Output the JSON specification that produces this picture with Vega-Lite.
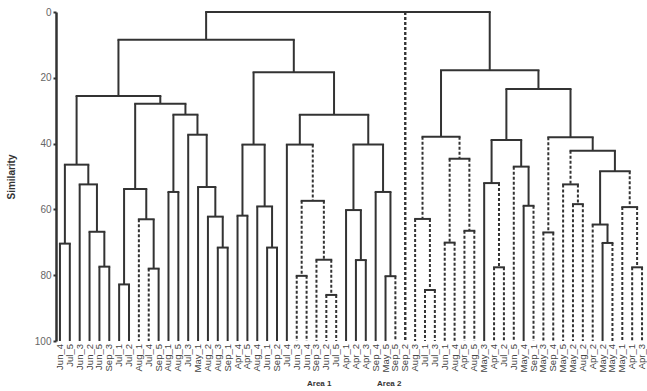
{
  "$schema": "https://vega.github.io/schema/vega-lite/v6.json",
  "width": 589,
  "height": 329,
  "autosize": "none",
  "padding": {"left": 56, "top": 12, "right": 2, "bottom": 50},
  "background": "white",
  "config": {
    "view": {"stroke": null},
    "font": "Liberation Sans",
    "axisY": {
      "grid": false,
      "domainColor": "#333",
      "domainWidth": 2.5,
      "tickColor": "#333",
      "tickWidth": 2,
      "tickSize": 3,
      "labelPadding": 2,
      "labelColor": "#666",
      "labelFontSize": 10,
      "titleFontSize": 10,
      "titleFontWeight": "bold",
      "titleColor": "#333",
      "titlePadding": 18
    }
  },
  "datasets": {
    "merges": [
      {"xl": 1, "xr": 2, "h": 70.4, "hl": 100, "hr": 100, "al": "Area 1", "ar": "Area 1"},
      {"xl": 5, "xr": 6, "h": 77.4, "hl": 100, "hr": 100, "al": "Area 1", "ar": "Area 1"},
      {"xl": 4, "xr": 5.5, "h": 66.8, "hl": 100, "hr": 77.4, "al": "Area 1", "ar": "Area 1"},
      {"xl": 3, "xr": 4.75, "h": 52.4, "hl": 100, "hr": 66.8, "al": "Area 1", "ar": "Area 1"},
      {"xl": 1.5, "xr": 3.875, "h": 46.4, "hl": 70.4, "hr": 52.4, "al": "Area 1", "ar": "Area 1"},
      {"xl": 7, "xr": 8, "h": 82.8, "hl": 100, "hr": 100, "al": "Area 1", "ar": "Area 1"},
      {"xl": 10, "xr": 11, "h": 78.0, "hl": 100, "hr": 100, "al": "Area 2", "ar": "Area 1"},
      {"xl": 9, "xr": 10.5, "h": 63.0, "hl": 100, "hr": 78.0, "al": "Area 2", "ar": "Area 1"},
      {"xl": 7.5, "xr": 9.75, "h": 53.8, "hl": 82.8, "hr": 63.0, "al": "Area 1", "ar": "Area 1"},
      {"xl": 12, "xr": 13, "h": 54.7, "hl": 100, "hr": 100, "al": "Area 1", "ar": "Area 1"},
      {"xl": 17, "xr": 18, "h": 71.6, "hl": 100, "hr": 100, "al": "Area 1", "ar": "Area 1"},
      {"xl": 16, "xr": 17.5, "h": 62.2, "hl": 100, "hr": 71.6, "al": "Area 1", "ar": "Area 1"},
      {"xl": 15, "xr": 16.75, "h": 53.2, "hl": 100, "hr": 62.2, "al": "Area 1", "ar": "Area 1"},
      {"xl": 14, "xr": 15.875, "h": 37.3, "hl": 100, "hr": 53.2, "al": "Area 1", "ar": "Area 1"},
      {"xl": 12.5, "xr": 14.9375, "h": 31.2, "hl": 54.7, "hr": 37.3, "al": "Area 1", "ar": "Area 1"},
      {"xl": 8.625, "xr": 13.71875, "h": 27.9, "hl": 53.8, "hr": 31.2, "al": "Area 1", "ar": "Area 1"},
      {"xl": 2.6875, "xr": 11.171875, "h": 25.5, "hl": 46.4, "hr": 27.9, "al": "Area 1", "ar": "Area 1"},
      {"xl": 19, "xr": 20, "h": 61.9, "hl": 100, "hr": 100, "al": "Area 1", "ar": "Area 1"},
      {"xl": 22, "xr": 23, "h": 71.6, "hl": 100, "hr": 100, "al": "Area 1", "ar": "Area 1"},
      {"xl": 21, "xr": 22.5, "h": 59.1, "hl": 100, "hr": 71.6, "al": "Area 1", "ar": "Area 1"},
      {"xl": 19.5, "xr": 21.75, "h": 40.3, "hl": 61.9, "hr": 59.1, "al": "Area 1", "ar": "Area 1"},
      {"xl": 25, "xr": 26, "h": 80.2, "hl": 100, "hr": 100, "al": "Area 2", "ar": "Area 2"},
      {"xl": 28, "xr": 29, "h": 86.0, "hl": 100, "hr": 100, "al": "Area 2", "ar": "Area 2"},
      {"xl": 27, "xr": 28.5, "h": 75.3, "hl": 100, "hr": 86.0, "al": "Area 2", "ar": "Area 2"},
      {"xl": 25.5, "xr": 27.75, "h": 57.4, "hl": 80.2, "hr": 75.3, "al": "Area 2", "ar": "Area 2"},
      {"xl": 24, "xr": 26.625, "h": 40.3, "hl": 100, "hr": 57.4, "al": "Area 1", "ar": "Area 2"},
      {"xl": 31, "xr": 32, "h": 75.4, "hl": 100, "hr": 100, "al": "Area 1", "ar": "Area 1"},
      {"xl": 30, "xr": 31.5, "h": 60.2, "hl": 100, "hr": 75.4, "al": "Area 1", "ar": "Area 1"},
      {"xl": 34, "xr": 35, "h": 80.3, "hl": 100, "hr": 100, "al": "Area 1", "ar": "Area 2"},
      {"xl": 33, "xr": 34.5, "h": 54.7, "hl": 100, "hr": 80.3, "al": "Area 1", "ar": "Area 1"},
      {"xl": 30.75, "xr": 33.75, "h": 40.3, "hl": 60.2, "hr": 54.7, "al": "Area 1", "ar": "Area 1"},
      {"xl": 25.3125, "xr": 32.25, "h": 31.2, "hl": 40.3, "hr": 40.3, "al": "Area 1", "ar": "Area 1"},
      {"xl": 20.625, "xr": 28.78125, "h": 18.3, "hl": 40.3, "hr": 31.2, "al": "Area 1", "ar": "Area 1"},
      {"xl": 6.9296875, "xr": 24.703125, "h": 8.4, "hl": 25.5, "hr": 18.3, "al": "Area 1", "ar": "Area 1"},
      {"xl": 38, "xr": 39, "h": 84.5, "hl": 100, "hr": 100, "al": "Area 2", "ar": "Area 2"},
      {"xl": 37, "xr": 38.5, "h": 62.9, "hl": 100, "hr": 84.5, "al": "Area 2", "ar": "Area 2"},
      {"xl": 40, "xr": 41, "h": 70.1, "hl": 100, "hr": 100, "al": "Area 2", "ar": "Area 2"},
      {"xl": 42, "xr": 43, "h": 66.5, "hl": 100, "hr": 100, "al": "Area 2", "ar": "Area 2"},
      {"xl": 40.5, "xr": 42.5, "h": 44.6, "hl": 70.1, "hr": 66.5, "al": "Area 2", "ar": "Area 2"},
      {"xl": 37.75, "xr": 41.5, "h": 37.9, "hl": 62.9, "hr": 44.6, "al": "Area 2", "ar": "Area 2"},
      {"xl": 45, "xr": 46, "h": 77.6, "hl": 100, "hr": 100, "al": "Area 2", "ar": "Area 2"},
      {"xl": 44, "xr": 45.5, "h": 52.0, "hl": 100, "hr": 77.6, "al": "Area 1", "ar": "Area 2"},
      {"xl": 48, "xr": 49, "h": 58.9, "hl": 100, "hr": 100, "al": "Area 1", "ar": "Area 2"},
      {"xl": 47, "xr": 48.5, "h": 47.0, "hl": 100, "hr": 58.9, "al": "Area 2", "ar": "Area 1"},
      {"xl": 44.75, "xr": 47.75, "h": 38.9, "hl": 52.0, "hr": 47.0, "al": "Area 1", "ar": "Area 1"},
      {"xl": 50, "xr": 51, "h": 67.0, "hl": 100, "hr": 100, "al": "Area 2", "ar": "Area 2"},
      {"xl": 53, "xr": 54, "h": 58.4, "hl": 100, "hr": 100, "al": "Area 2", "ar": "Area 2"},
      {"xl": 52, "xr": 53.5, "h": 52.4, "hl": 100, "hr": 58.4, "al": "Area 2", "ar": "Area 2"},
      {"xl": 56, "xr": 57, "h": 70.2, "hl": 100, "hr": 100, "al": "Area 1", "ar": "Area 2"},
      {"xl": 55, "xr": 56.5, "h": 64.6, "hl": 100, "hr": 70.2, "al": "Area 2", "ar": "Area 1"},
      {"xl": 59, "xr": 60, "h": 77.6, "hl": 100, "hr": 100, "al": "Area 2", "ar": "Area 2"},
      {"xl": 58, "xr": 59.5, "h": 59.3, "hl": 100, "hr": 77.6, "al": "Area 2", "ar": "Area 2"},
      {"xl": 55.75, "xr": 58.75, "h": 48.4, "hl": 64.6, "hr": 59.3, "al": "Area 1", "ar": "Area 2"},
      {"xl": 52.75, "xr": 57.25, "h": 42.2, "hl": 52.4, "hr": 48.4, "al": "Area 2", "ar": "Area 1"},
      {"xl": 50.5, "xr": 55.0, "h": 38.1, "hl": 67.0, "hr": 42.2, "al": "Area 2", "ar": "Area 1"},
      {"xl": 46.25, "xr": 52.75, "h": 23.4, "hl": 38.9, "hr": 38.1, "al": "Area 1", "ar": "Area 1"},
      {"xl": 39.625, "xr": 49.5, "h": 17.7, "hl": 37.9, "hr": 23.4, "al": "Area 1", "ar": "Area 1"},
      {"xl": 15.81640625, "xr": 44.5625, "h": 0, "hl": 8.4, "hr": 17.7, "al": "Area 1", "ar": "Area 1"},
      {"xl": 36, "xr": 36, "h": 0, "hl": 100, "hr": 100, "al": "Area 2", "ar": "Area 2"}
    ],
    "leaves": [
      {"i": 1, "name": "Jun_4"}, {"i": 2, "name": "Jul_5"}, {"i": 3, "name": "Jun_3"},
      {"i": 4, "name": "Jun_2"}, {"i": 5, "name": "Jun_5"}, {"i": 6, "name": "Sep_3"},
      {"i": 7, "name": "Jul_1"}, {"i": 8, "name": "Jul_2"}, {"i": 9, "name": "Aug_1"},
      {"i": 10, "name": "Jul_4"}, {"i": 11, "name": "Sep_5"}, {"i": 12, "name": "Aug_1"},
      {"i": 13, "name": "Aug_5"}, {"i": 14, "name": "Jul_3"}, {"i": 15, "name": "May_1"},
      {"i": 16, "name": "Aug_2"}, {"i": 17, "name": "Aug_3"}, {"i": 18, "name": "Sep_1"},
      {"i": 19, "name": "Apr_4"}, {"i": 20, "name": "Apr_5"}, {"i": 21, "name": "Aug_4"},
      {"i": 22, "name": "Jun_1"}, {"i": 23, "name": "Sep_2"}, {"i": 24, "name": "Jul_4"},
      {"i": 25, "name": "Jun_3"}, {"i": 26, "name": "Jun_4"}, {"i": 27, "name": "Sep_3"},
      {"i": 28, "name": "Jun_2"}, {"i": 29, "name": "Jul_5"}, {"i": 30, "name": "Apr_1"},
      {"i": 31, "name": "Apr_2"}, {"i": 32, "name": "Apr_3"}, {"i": 33, "name": "Sep_4"},
      {"i": 34, "name": "May_5"}, {"i": 35, "name": "Sep_5"}, {"i": 36, "name": "Sep_2"},
      {"i": 37, "name": "Aug_3"}, {"i": 38, "name": "Jul_1"}, {"i": 39, "name": "Jul_3"},
      {"i": 40, "name": "Jun_1"}, {"i": 41, "name": "Aug_4"}, {"i": 42, "name": "Apr_5"},
      {"i": 43, "name": "Aug_5"}, {"i": 44, "name": "May_3"}, {"i": 45, "name": "Apr_4"},
      {"i": 46, "name": "Jul_2"}, {"i": 47, "name": "Jun_5"}, {"i": 48, "name": "May_4"},
      {"i": 49, "name": "Sep_1"}, {"i": 50, "name": "May_3"}, {"i": 51, "name": "Sep_4"},
      {"i": 52, "name": "May_5"}, {"i": 53, "name": "May_2"}, {"i": 54, "name": "Aug_2"},
      {"i": 55, "name": "Apr_2"}, {"i": 56, "name": "May_2"}, {"i": 57, "name": "May_4"},
      {"i": 58, "name": "May_1"}, {"i": 59, "name": "Apr_1"}, {"i": 60, "name": "Apr_3"}
    ]
  },
  "layer": [
    {
      "data": {"name": "merges"},
      "mark": {"type": "rule", "color": "#333", "strokeWidth": 2, "strokeCap": "square"},
      "encoding": {
        "x": {"field": "xl", "type": "quantitative", "axis": null,
              "scale": {"domain": [0.6, 60.3], "nice": false, "zero": false}},
        "x2": {"field": "xr"},
        "y": {"field": "h", "type": "quantitative", "title": "Similarity",
              "axis": {"values": [0, 20, 40, 60, 80, 100]},
              "scale": {"domain": [0, 100], "reverse": true, "nice": false, "zero": false}}
      }
    },
    {
      "data": {"name": "merges"},
      "mark": {"type": "rule", "color": "#333", "strokeWidth": 2},
      "encoding": {
        "x": {"field": "xl", "type": "quantitative", "axis": null},
        "y": {"field": "h", "type": "quantitative", "title": "Similarity",
              "axis": {"values": [0, 20, 40, 60, 80, 100]}},
        "y2": {"field": "hl"},
        "strokeDash": {
          "field": "al", "type": "nominal",
          "scale": {"domain": ["Area 1", "Area 2"], "range": [[1, 0], [3, 2]]},
          "legend": {
            "title": null, "orient": "none", "direction": "horizontal",
            "legendX": 243, "legendY": 368,
            "symbolSize": 0, "symbolOpacity": 0, "labelOffset": 0,
            "columnPadding": 37,
            "labelFontSize": 8, "labelFontWeight": "bold", "labelColor": "#333"
          }
        }
      }
    },
    {
      "data": {"name": "merges"},
      "mark": {"type": "rule", "color": "#333", "strokeWidth": 2},
      "encoding": {
        "x": {"field": "xr", "type": "quantitative", "axis": null},
        "y": {"field": "h", "type": "quantitative", "title": "Similarity",
              "axis": {"values": [0, 20, 40, 60, 80, 100]}},
        "y2": {"field": "hr"},
        "strokeDash": {"field": "ar", "type": "nominal"}
      }
    },
    {
      "data": {"name": "leaves"},
      "mark": {"type": "text", "angle": 270, "align": "right", "baseline": "middle",
               "dx": -3, "fontSize": 9.5, "color": "#444"},
      "encoding": {
        "x": {"field": "i", "type": "quantitative", "axis": null},
        "y": {"datum": 100, "type": "quantitative", "title": "Similarity",
              "axis": {"values": [0, 20, 40, 60, 80, 100]}},
        "text": {"field": "name"}
      }
    }
  ]
}
